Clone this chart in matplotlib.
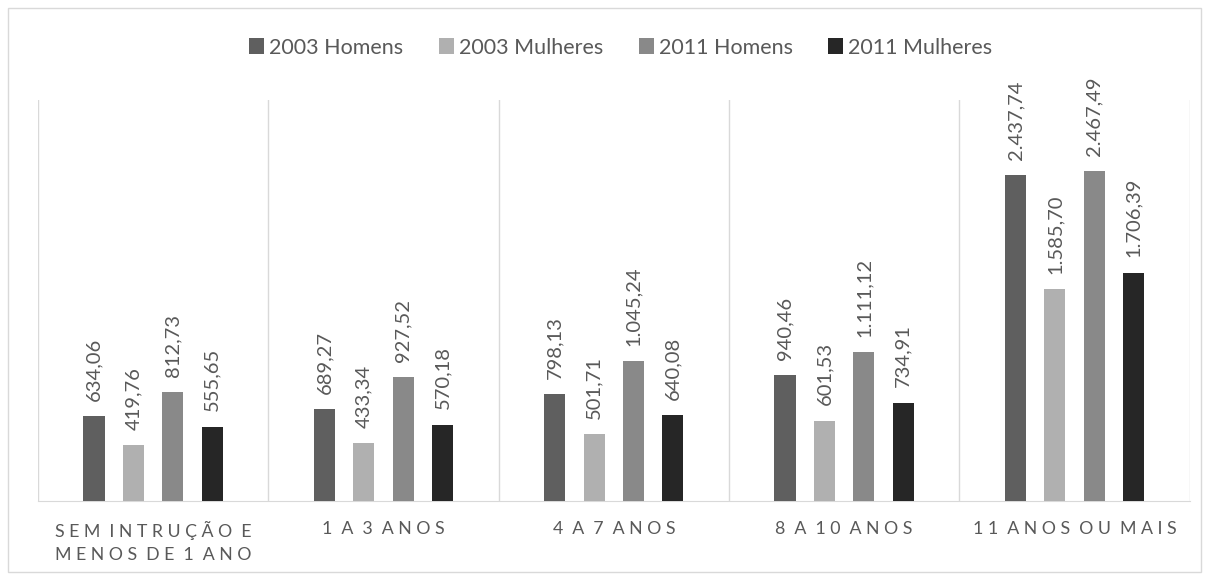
import matplotlib.pyplot as plt
from matplotlib.patches import Rectangle
import numpy as np

categories = ['SEM INTRUÇÃO E\nMENOS DE 1 ANO', '1 A 3 ANOS', '4 A 7 ANOS',
              '8 A 10 ANOS', '11 ANOS OU MAIS']
series = ['2003 Homens', '2003 Mulheres', '2011 Homens', '2011 Mulheres']
h2003 = [634.06, 689.27, 798.13, 940.46, 2437.74]
m2003 = [419.76, 433.34, 501.71, 601.53, 1585.70]
h2011 = [812.73, 927.52, 1045.24, 1111.12, 2467.49]
m2011 = [555.65, 570.18, 640.08, 734.91, 1706.39]
colors = ['#5f5f5f', '#b0b0b0', '#898989', '#262626']

txt = '#595959'
plt.rcParams['font.family'] = ['Lato', 'DejaVu Sans']


def spaced(s):
    # mimic the wide letter tracking of the original axis labels
    lines = []
    for line in s.split('\n'):
        words = [' '.join(w) for w in line.split(' ')]
        lines.append('  '.join(words))
    return '\n'.join(lines)


def fmt(v):
    s = '{:,.2f}'.format(v)
    return s.replace(',', 'X').replace('.', ',').replace('X', '.')


fig = plt.figure(figsize=(12.09, 5.80), dpi=100)
fig.patches.append(Rectangle((0.007, 0.014), 0.986, 0.972, transform=fig.transFigure,
                             fill=False, edgecolor='#d9d9d9', linewidth=1))
ax = fig.add_axes([0.0314, 0.136, 0.9526, 0.692])

x = np.arange(len(categories))
step = 0.171
w = 0.092
for i, (vals, name) in enumerate(zip([h2003, m2003, h2011, m2011], series)):
    pos = x + (i - 1.5) * step
    ax.bar(pos, vals, width=w, color=colors[i], label=name, zorder=3)
    for p, v in zip(pos, vals):
        ax.text(p, v + 115, fmt(v), rotation=90, ha='center', va='bottom',
                fontsize=14.5, color=txt)

for b in np.arange(len(categories) + 1) - 0.5:
    ax.axvline(b, color='#d9d9d9', linewidth=1, zorder=1)

ax.set_xlim(-0.5, len(categories) - 0.5)
ax.set_ylim(0, 3000)
ax.set_yticks([])
ax.set_xticks(x)
ax.set_xticklabels([spaced(c) for c in categories], fontsize=12.8, color=txt,
                   linespacing=1.6)
ax.tick_params(axis='x', length=0, pad=14)
for s in ['top', 'right', 'left']:
    ax.spines[s].set_visible(False)
ax.spines['bottom'].set_color('#d9d9d9')

fig.legend(loc='center', bbox_to_anchor=(0.5135, 0.918), ncol=4, frameon=False,
           fontsize=15.5, handlelength=0.7, handleheight=0.7, handletextpad=0.23,
           columnspacing=1.65, labelcolor=txt)

plt.savefig('out.png', dpi=100)
